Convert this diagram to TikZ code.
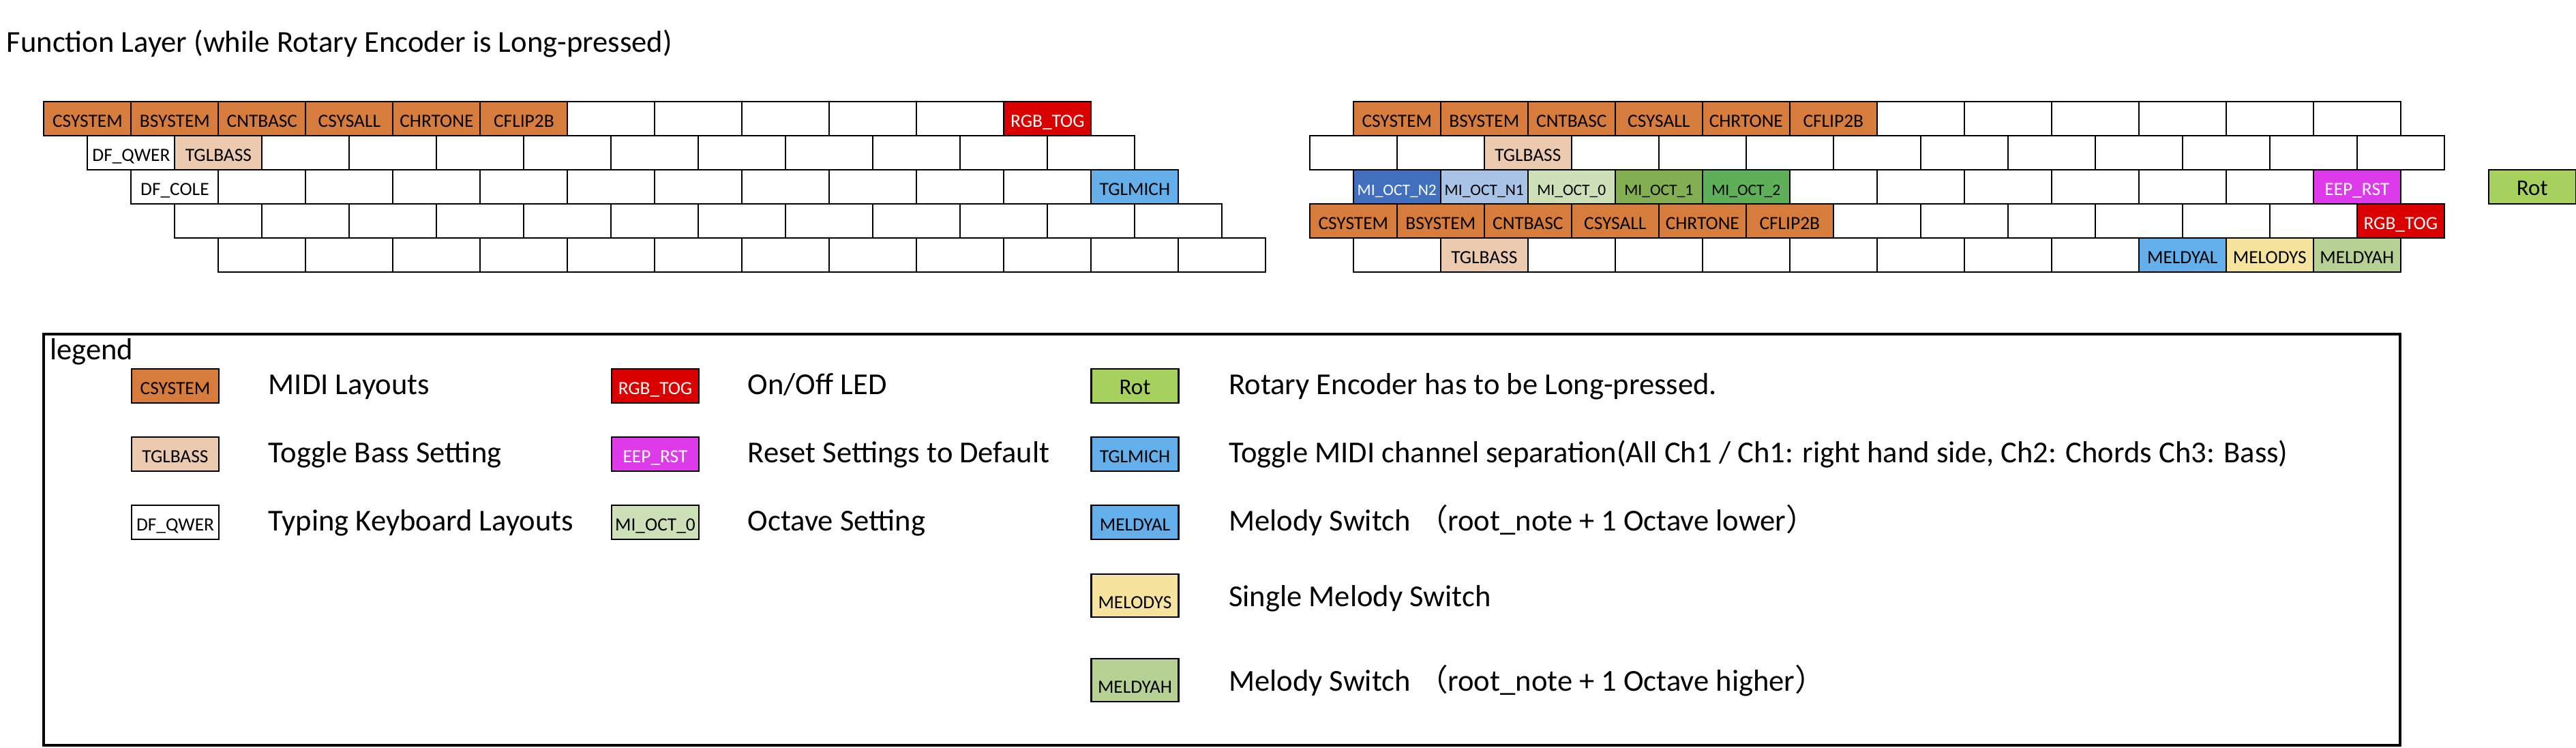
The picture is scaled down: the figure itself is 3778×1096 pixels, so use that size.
\documentclass[tikz,border=0pt]{standalone}
\usepackage{fontspec}
\setmainfont{Carlito}
\newfontfamily\cjk{Noto Sans CJK JP}
\definecolor{corng}{RGB}{214,125,61}
\definecolor{cpeach}{RGB}{236,202,175}
\definecolor{cred}{RGB}{218,0,0}
\definecolor{clblue}{RGB}{100,175,234}
\definecolor{cdblue}{RGB}{66,112,191}
\definecolor{cpblue}{RGB}{168,195,230}
\definecolor{cpgreen}{RGB}{206,224,183}
\definecolor{cogreen}{RGB}{131,174,82}
\definecolor{cgreen}{RGB}{95,175,88}
\definecolor{cmag}{RGB}{221,59,234}
\definecolor{crot}{RGB}{167,209,94}
\definecolor{cyel}{RGB}{246,228,158}
\definecolor{colive}{RGB}{183,209,148}
\tikzset{
  keyb/.style={draw, line width=2pt, minimum width=128pt, minimum height=50pt,
    inner sep=0pt, outer sep=0pt, anchor=north west, fill=white,
    font=\fontsize{27.4}{30}\selectfont, text height=28pt, text depth=4pt},
  lkey/.style={keyb, line width=2.5pt},
  tallkey/.style={minimum height=63pt, text height=41pt},
  orng/.style={fill=corng},
  peach/.style={fill=cpeach},
  redk/.style={fill=cred, text=white},
  lblu/.style={fill=clblue},
  dblu/.style={fill=cdblue, text=white},
  pblu/.style={fill=cpblue},
  pgrn/.style={fill=cpgreen},
  ogrn/.style={fill=cogreen},
  grn/.style={fill=cgreen},
  magk/.style={fill=cmag, text=white},
  rotk/.style={fill=crot, font=\fontsize{33}{36}\selectfont},
  yelk/.style={fill=cyel},
  olvk/.style={fill=colive},
  octf/.style={font=\fontsize{23.5}{26}\selectfont},
  bigtxt/.style={anchor=base west, inner sep=0pt, font=\fontsize{44.6}{50}\selectfont},
}
\begin{document}
\begin{tikzpicture}[x=1pt,y=-1pt]
\useasboundingbox[fill=white] (0,0) rectangle (3778,1096);

\node[bigtxt] (title) at (9.6,76) {Function Layer (while Rotary Encoder is Long-pressed)};

% ---------- left block ----------
% row 1
\foreach \i/\t in {0/CSYSTEM,1/BSYSTEM,2/CNTBASC,3/CSYSALL,4/CHRTONE,5/CFLIP2B}
  \node[keyb,orng] (La\i) at ({64.4+128*\i},149) {\t};
\foreach \i in {6,...,10}
  \node[keyb] (La\i) at ({64.4+128*\i},149) {};
\node[keyb,redk] (La11) at ({64.4+128*11},149) {RGB\_TOG};
% row 2
\node[keyb] (Lb0) at (128.4,199) {DF\_QWER};
\node[keyb,peach] (Lb1) at ({128.4+128},199) {TGLBASS};
\foreach \i in {2,...,11}
  \node[keyb] (Lb\i) at ({128.4+128*\i},199) {};
% row 3
\node[keyb] (Lc0) at (192.4,249) {DF\_COLE};
\foreach \i in {1,...,10}
  \node[keyb] (Lc\i) at ({192.4+128*\i},249) {};
\node[keyb,lblu] (Lc11) at ({192.4+128*11},249) {TGLMICH};
% row 4
\foreach \i in {0,...,11}
  \node[keyb] (Ld\i) at ({256.4+128*\i},299) {};
% row 5
\foreach \i in {0,...,11}
  \node[keyb] (Le\i) at ({320.4+128*\i},349) {};

% ---------- right block ----------
% row 1
\foreach \i/\t in {0/CSYSTEM,1/BSYSTEM,2/CNTBASC,3/CSYSALL,4/CHRTONE,5/CFLIP2B}
  \node[keyb,orng] (Ra\i) at ({1984.8+128*\i},149) {\t};
\foreach \i in {6,...,11}
  \node[keyb] (Ra\i) at ({1984.8+128*\i},149) {};
% row 2
\foreach \i in {0,1,3,4,5,6,7,8,9,10,11,12}
  \node[keyb] (Rb\i) at ({1920.8+128*\i},199) {};
\node[keyb,peach] (Rb2) at ({1920.8+128*2},199) {TGLBASS};
% row 3
\node[keyb,dblu,octf] (Rc0) at (1984.8,249) {MI\_OCT\_N2};
\node[keyb,pblu,octf] (Rc1) at ({1984.8+128},249) {MI\_OCT\_N1};
\node[keyb,pgrn,octf] (Rc2) at ({1984.8+128*2},249) {MI\_OCT\_0};
\node[keyb,ogrn,octf] (Rc3) at ({1984.8+128*3},249) {MI\_OCT\_1};
\node[keyb,grn,octf] (Rc4) at ({1984.8+128*4},249) {MI\_OCT\_2};
\foreach \i in {5,...,10}
  \node[keyb] (Rc\i) at ({1984.8+128*\i},249) {};
\node[keyb,magk] (Rc11) at ({1984.8+128*11},249) {EEP\_RST};
% row 4
\foreach \i/\t in {0/CSYSTEM,1/BSYSTEM,2/CNTBASC,3/CSYSALL,4/CHRTONE,5/CFLIP2B}
  \node[keyb,orng] (Rd\i) at ({1920.8+128*\i},299) {\t};
\foreach \i in {6,...,11}
  \node[keyb] (Rd\i) at ({1920.8+128*\i},299) {};
\node[keyb,redk] (Rd12) at ({1920.8+128*12},299) {RGB\_TOG};
% row 5
\foreach \i in {0,2,3,4,5,6,7,8}
  \node[keyb] (Re\i) at ({1984.8+128*\i},349) {};
\node[keyb,peach] (Re1) at ({1984.8+128},349) {TGLBASS};
\node[keyb,lblu] (Re9) at ({1984.8+128*9},349) {MELDYAL};
\node[keyb,yelk] (Re10) at ({1984.8+128*10},349) {MELODYS};
\node[keyb,olvk] (Re11) at ({1984.8+128*11},349) {MELDYAH};

% rotary
\node[keyb,rotk] (rot) at (3649.7,249) {Rot};

% ---------- legend ----------
\draw[line width=3.5pt] (64,490) rectangle (3520,1093);
\node[bigtxt] (legtitle) at (73,527) {legend};

\node[lkey,orng] (g1) at (193,541) {CSYSTEM};
\node[bigtxt] (g1t) at (393.5,578) {MIDI Layouts};
\node[lkey,peach] (g2) at (193,641) {TGLBASS};
\node[bigtxt] (g2t) at (393.5,678) {Toggle Bass Setting};
\node[lkey] (g3) at (193,741) {DF\_QWER};
\node[bigtxt] (g3t) at (393.5,778) {Typing Keyboard Layouts};

\node[lkey,redk] (h1) at (897,541) {RGB\_TOG};
\node[bigtxt] (h1t) at (1096.6,578) {On/Off LED};
\node[lkey,magk] (h2) at (897,641) {EEP\_RST};
\node[bigtxt] (h2t) at (1096.6,678) {Reset Settings to Default};
\node[lkey,pgrn] (h3) at (897,741) {MI\_OCT\_0};
\node[bigtxt] (h3t) at (1096.6,778) {Octave Setting};

\node[lkey,rotk] (k1) at (1600.5,541) {Rot};
\node[bigtxt] (k1t) at (1802,578) {Rotary Encoder has to be Long-pressed.};
\node[lkey,lblu] (k2) at (1600.5,641) {TGLMICH};
\node[bigtxt] (k2t) at (1802,678) {Toggle MIDI channel separation(All Ch1 / Ch1: right hand side, Ch2: Chords Ch3: Bass)};
\node[lkey,lblu] (k3) at (1600.5,741) {MELDYAL};
\node[bigtxt] (k3t) at (1802,778) {Melody Switch {\cjk （}root\_note + 1 Octave lower{\cjk ）}};
\node[lkey,yelk,tallkey] (k4) at (1600.5,842) {MELODYS};
\node[bigtxt] (k4t) at (1802,889) {Single Melody Switch};
\node[lkey,olvk,tallkey] (k5) at (1600.5,966) {MELDYAH};
\node[bigtxt] (k5t) at (1802,1013) {Melody Switch {\cjk （}root\_note + 1 Octave higher{\cjk ）}};
\end{tikzpicture}
\end{document}
